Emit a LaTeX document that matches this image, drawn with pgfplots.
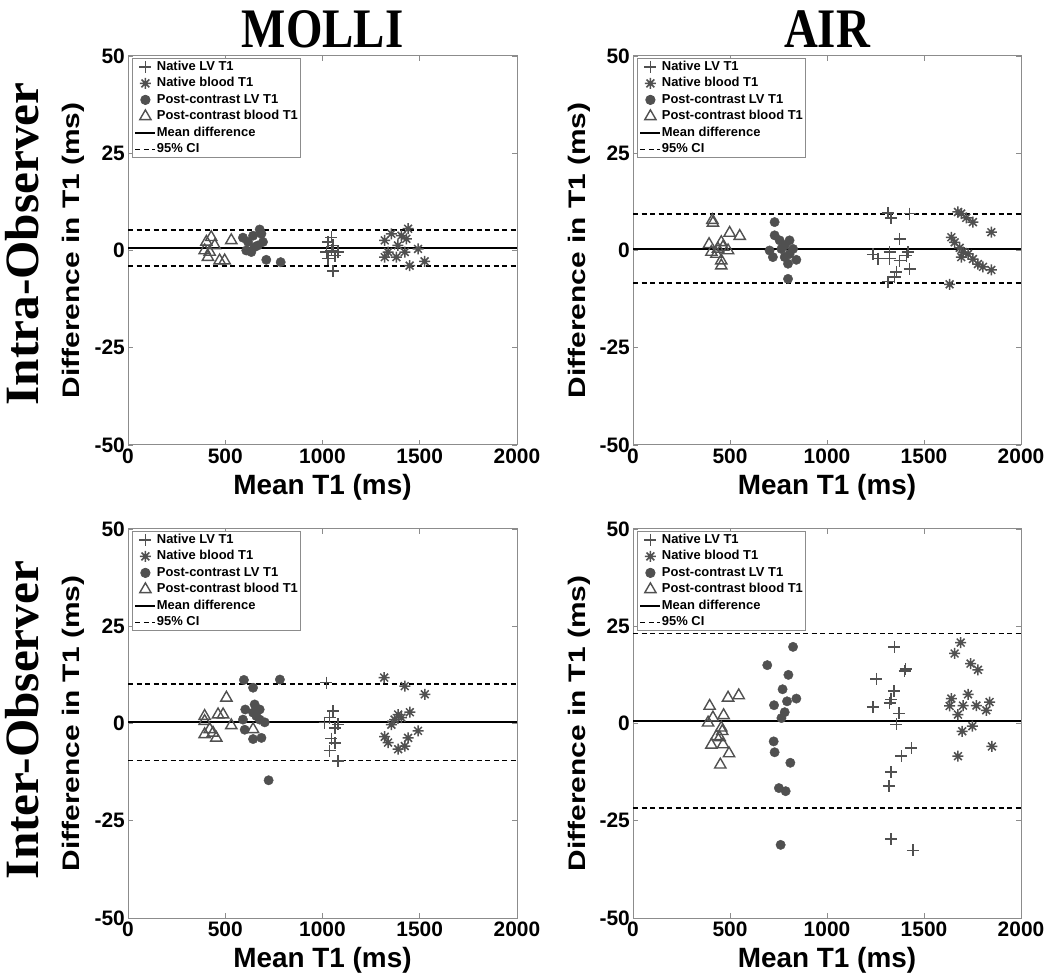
\documentclass[border=0pt]{standalone}
\usepackage{fontspec}
\setmainfont{Liberation Sans}
\newfontfamily\serifbf{Liberation Serif}
\usepackage{graphicx}
\usepackage{pgfplots}
\pgfplotsset{compat=1.18}

\definecolor{mk}{HTML}{505050}
\definecolor{axc}{HTML}{8C8C8C}

\pgfdeclareplotmark{mstar}{%
  \pgfpathmoveto{\pgfqpoint{-\pgfplotmarksize}{0pt}}\pgfpathlineto{\pgfqpoint{\pgfplotmarksize}{0pt}}%
  \pgfpathmoveto{\pgfqpoint{0pt}{-\pgfplotmarksize}}\pgfpathlineto{\pgfqpoint{0pt}{\pgfplotmarksize}}%
  \pgfpathmoveto{\pgfqpoint{-0.707\pgfplotmarksize}{-0.707\pgfplotmarksize}}\pgfpathlineto{\pgfqpoint{0.707\pgfplotmarksize}{0.707\pgfplotmarksize}}%
  \pgfpathmoveto{\pgfqpoint{-0.707\pgfplotmarksize}{0.707\pgfplotmarksize}}\pgfpathlineto{\pgfqpoint{0.707\pgfplotmarksize}{-0.707\pgfplotmarksize}}%
  \pgfusepathqstroke}

\pgfplotsset{
  bas/.style={
    scale only axis, width=389bp, height=389bp,
    xmin=0, xmax=2000, ymin=-50, ymax=50,
    xtick={0,500,1000,1500,2000}, ytick={-50,-25,0,25,50},
    tick align=inside, tick pos=both, major tick length=5bp,
    axis line style={draw=axc, line width=1bp},
    every tick/.style={draw=axc, line width=0.8bp},
    /pgf/number format/assume math mode=true,
    /pgf/number format/1000 sep={},
    tick label style={font=\fontsize{21}{21}\selectfont\bfseries},
    xticklabel style={inner sep=0pt, yshift=-4bp},
    yticklabel style={inner sep=0pt, xshift=-3bp},
    xlabel={Mean T1 (ms)},
    xlabel style={font=\fontsize{28}{28}\selectfont\bfseries, at={(axis description cs:0.5,-0.128)}, anchor=base},
    ylabel={\scalebox{1.25}[1]{Difference in T1 (ms)}},
    ylabel style={font=\fontsize{24}{24}\selectfont\bfseries, at={(axis description cs:-0.1234,0.5)}, anchor=base},
    legend cell align=left,
    legend style={at={(axis description cs:0,1)}, anchor=north west, xshift=4bp, yshift=-2bp,
      draw=axc, line width=0.8bp, fill=white,
      font=\fontsize{13}{13}\selectfont\bfseries,
      inner xsep=2bp, inner ysep=2bp, row sep=3.5bp,
      nodes={inner sep=0.5bp, text height=9.5bp, text depth=2.5bp},
      cells={anchor=west}},
    legend image code/.code={\draw[mark repeat=2,mark phase=2] plot coordinates {(0bp,0bp) (10bp,0bp) (20bp,0bp)};},
  },
  pLV/.style={only marks, mark=+, mark size=6bp, color=mk, line width=1.5bp},
  pBL/.style={only marks, mark=mstar, mark size=5.5bp, color=mk, line width=1.5bp},
  pPLV/.style={only marks, mark=*, mark size=4.7bp, color=mk, fill=mk},
  pPBL/.style={only marks, mark=triangle, mark size=6.5bp, color=mk, line width=1.4bp},
  pMean/.style={black, line width=2bp},
  pCI/.style={black, line width=1.7bp, dash pattern=on 5bp off 3.5bp},
}

\begin{document}
\begin{tikzpicture}
\useasboundingbox (0,0) rectangle (1050bp,975bp);

% ---------- Top-left: MOLLI intra ----------
\begin{axis}[bas, at={(128bp,530bp)}, anchor=south west]
\addplot[pLV] coordinates {(1046,3.4) (1028,2.2) (1054,1.3) (1020,-0.4) (1080,-0.4) (1046,0.0) (1028,-2.1) (1054,-5.3) (1063,-1.3)};
\addlegendentry{Native LV T1}
\addplot[pBL] coordinates {(1320,2.6) (1354,4.3) (1440,5.6) (1406,3.8) (1431,3.0) (1388,1.3) (1337,-0.4) (1320,-1.7) (1380,-1.7) (1491,0.4) (1448,-3.9) (1525,-2.8) (1423,-0.4)};
\addlegendentry{Native blood T1}
\addplot[pPLV] coordinates {(677,5.4) (591,3.3) (643,3.8) (694,2.2) (608,0.0) (651,0.9) (634,-0.4) (668,1.3) (711,-2.4) (785,-3.0) (617,2.2) (686,4.3)};
\addlegendentry{Post-contrast LV T1}
\addplot[pPBL] coordinates {(403,2.2) (428,3.4) (394,0.0) (420,-0.4) (411,-1.7) (471,-2.6) (497,-2.6) (531,2.6) (446,1.3)};
\addlegendentry{Post-contrast blood T1}
\addplot[pMean] coordinates {(0,0.6) (2000,0.6)};
\addlegendentry{Mean difference}
\addplot[pCI] coordinates {(0,5.3) (2000,5.3)};
\addlegendentry{95\% CI}
\addplot[pCI, forget plot] coordinates {(0,-3.9) (2000,-3.9)};
\end{axis}

% ---------- Top-right: AIR intra ----------
\begin{axis}[bas, width=388bp, at={(633bp,530bp)}, anchor=south west]
\addplot[pLV] coordinates {(1314,9.7) (1331,8.4) (1426,9.5) (1374,3.0) (1237,-1.0) (1263,-2.1) (1323,-0.4) (1323,-2.1) (1374,-2.6) (1409,-1.3) (1417,-0.4) (1426,-4.7) (1357,-5.5) (1349,-6.8) (1314,-8.0)};
\addlegendentry{Native LV T1}
\addplot[pBL] coordinates {(1675,9.9) (1692,9.5) (1718,8.4) (1752,7.3) (1847,4.7) (1641,3.4) (1658,2.1) (1684,0.7) (1701,-0.4) (1727,-0.9) (1692,-1.7) (1752,-2.2) (1778,-3.5) (1804,-4.2) (1847,-5.0) (1632,-8.7)};
\addlegendentry{Native blood T1}
\addplot[pPLV] coordinates {(730,7.3) (730,3.9) (756,2.6) (807,2.6) (782,1.3) (704,0.0) (825,0.4) (721,-1.7) (782,-1.7) (842,-2.4) (799,-3.4) (799,-7.3) (765,0.4) (807,-0.9)};
\addlegendentry{Post-contrast LV T1}
\addplot[pPBL] coordinates {(409,7.8) (412,7.1) (498,4.5) (550,3.7) (392,1.6) (455,2.1) (464,0.9) (404,-0.4) (430,-0.9) (490,0.0) (455,-2.6) (455,-3.9) (438,0.4)};
\addlegendentry{Post-contrast blood T1}
\addplot[pMean] coordinates {(0,0.4) (2000,0.4)};
\addlegendentry{Mean difference}
\addplot[pCI] coordinates {(0,9.4) (2000,9.4)};
\addlegendentry{95\% CI}
\addplot[pCI, forget plot] coordinates {(0,-8.4) (2000,-8.4)};
\end{axis}

% ---------- Bottom-left: MOLLI inter ----------
\begin{axis}[bas, at={(128bp,57bp)}, anchor=south west]
\addplot[pLV] coordinates {(1020,10.5) (1054,3.2) (1037,1.5) (1011,0.2) (1080,-0.2) (1063,-1.1) (1046,-3.9) (1063,-5.0) (1037,-7.0) (1080,-9.7)};
\addlegendentry{Native LV T1}
\addplot[pBL] coordinates {(1317,11.8) (1423,9.6) (1526,7.5) (1449,2.9) (1389,2.3) (1406,1.5) (1354,-0.3) (1491,-1.9) (1320,-3.4) (1337,-4.9) (1389,-6.6) (1423,-5.8) (1440,-3.7) (1371,1.0)};
\addlegendentry{Native blood T1}
\addplot[pPLV] coordinates {(596,11.2) (781,11.3) (643,9.2) (651,4.9) (603,3.6) (677,3.6) (643,2.8) (591,1.0) (677,1.0) (703,0.3) (600,-1.6) (643,-4.0) (686,-3.7) (723,-14.6) (660,1.9)};
\addlegendentry{Post-contrast LV T1}
\addplot[pPBL] coordinates {(506,6.6) (394,1.9) (463,2.3) (489,2.3) (394,0.6) (531,-0.5) (420,-1.5) (394,-2.8) (454,-3.7) (437,-2.4) (643,-1.5)};
\addlegendentry{Post-contrast blood T1}
\addplot[pMean] coordinates {(0,0.3) (2000,0.3)};
\addlegendentry{Mean difference}
\addplot[pCI] coordinates {(0,10.2) (2000,10.2)};
\addlegendentry{95\% CI}
\addplot[pCI, forget plot] coordinates {(0,-9.5) (2000,-9.5)};
\end{axis}

% ---------- Bottom-right: AIR inter ----------
\begin{axis}[bas, width=388bp, at={(633bp,57bp)}, anchor=south west]
\addplot[pLV] coordinates {(1347,19.7) (1405,14.0) (1400,13.5) (1254,11.5) (1345,8.3) (1331,6.2) (1237,4.2) (1323,5.3) (1371,2.6) (1357,-0.2) (1435,-6.3) (1383,-8.4) (1331,-12.5) (1319,-16.1) (1331,-29.7) (1443,-32.6)};
\addlegendentry{Native LV T1}
\addplot[pBL] coordinates {(1689,20.8) (1658,18.0) (1740,15.4) (1778,13.8) (1727,7.5) (1641,6.4) (1838,5.5) (1632,4.5) (1701,4.6) (1770,4.6) (1821,3.4) (1675,2.3) (1749,-0.7) (1697,-2.0) (1850,-5.9) (1675,-8.4)};
\addlegendentry{Native blood T1}
\addplot[pPLV] coordinates {(825,19.7) (692,15.0) (801,12.5) (771,8.8) (842,6.4) (794,5.7) (727,4.7) (782,2.9) (765,1.4) (725,-4.6) (730,-7.4) (811,-10.1) (752,-16.6) (787,-17.4) (761,-31.2)};
\addlegendentry{Post-contrast LV T1}
\addplot[pPBL] coordinates {(545,7.2) (490,6.6) (395,4.5) (467,2.1) (412,1.5) (387,0.2) (455,-1.1) (460,-2.0) (447,-3.6) (404,-5.5) (464,-5.4) (495,-7.7) (450,-10.6) (430,-3.3)};
\addlegendentry{Post-contrast blood T1}
\addplot[pMean] coordinates {(0,0.6) (2000,0.6)};
\addlegendentry{Mean difference}
\addplot[pCI] coordinates {(0,23.1) (2000,23.1)};
\addlegendentry{95\% CI}
\addplot[pCI, forget plot] coordinates {(0,-21.7) (2000,-21.7)};
\end{axis}

% ---------- Titles ----------
\node[anchor=base, font=\serifbf\bfseries\fontsize{56}{56}\selectfont, inner sep=0pt] at (322.5bp,927bp) {\scalebox{0.84}[1]{MOLLI}};
\node[anchor=base, font=\serifbf\bfseries\fontsize{56}{56}\selectfont, inner sep=0pt] at (827bp,927bp) {\scalebox{0.84}[1]{AIR}};
\node[anchor=base, rotate=90, font=\serifbf\bfseries\fontsize{48}{48}\selectfont, inner sep=0pt] at (38bp,731bp) {\scalebox{1.03}[1]{Intra-Observer}};
\node[anchor=base, rotate=90, font=\serifbf\bfseries\fontsize{48}{48}\selectfont, inner sep=0pt] at (38bp,255bp) {\scalebox{1.03}[1]{Inter-Observer}};
\end{tikzpicture}
\end{document}
